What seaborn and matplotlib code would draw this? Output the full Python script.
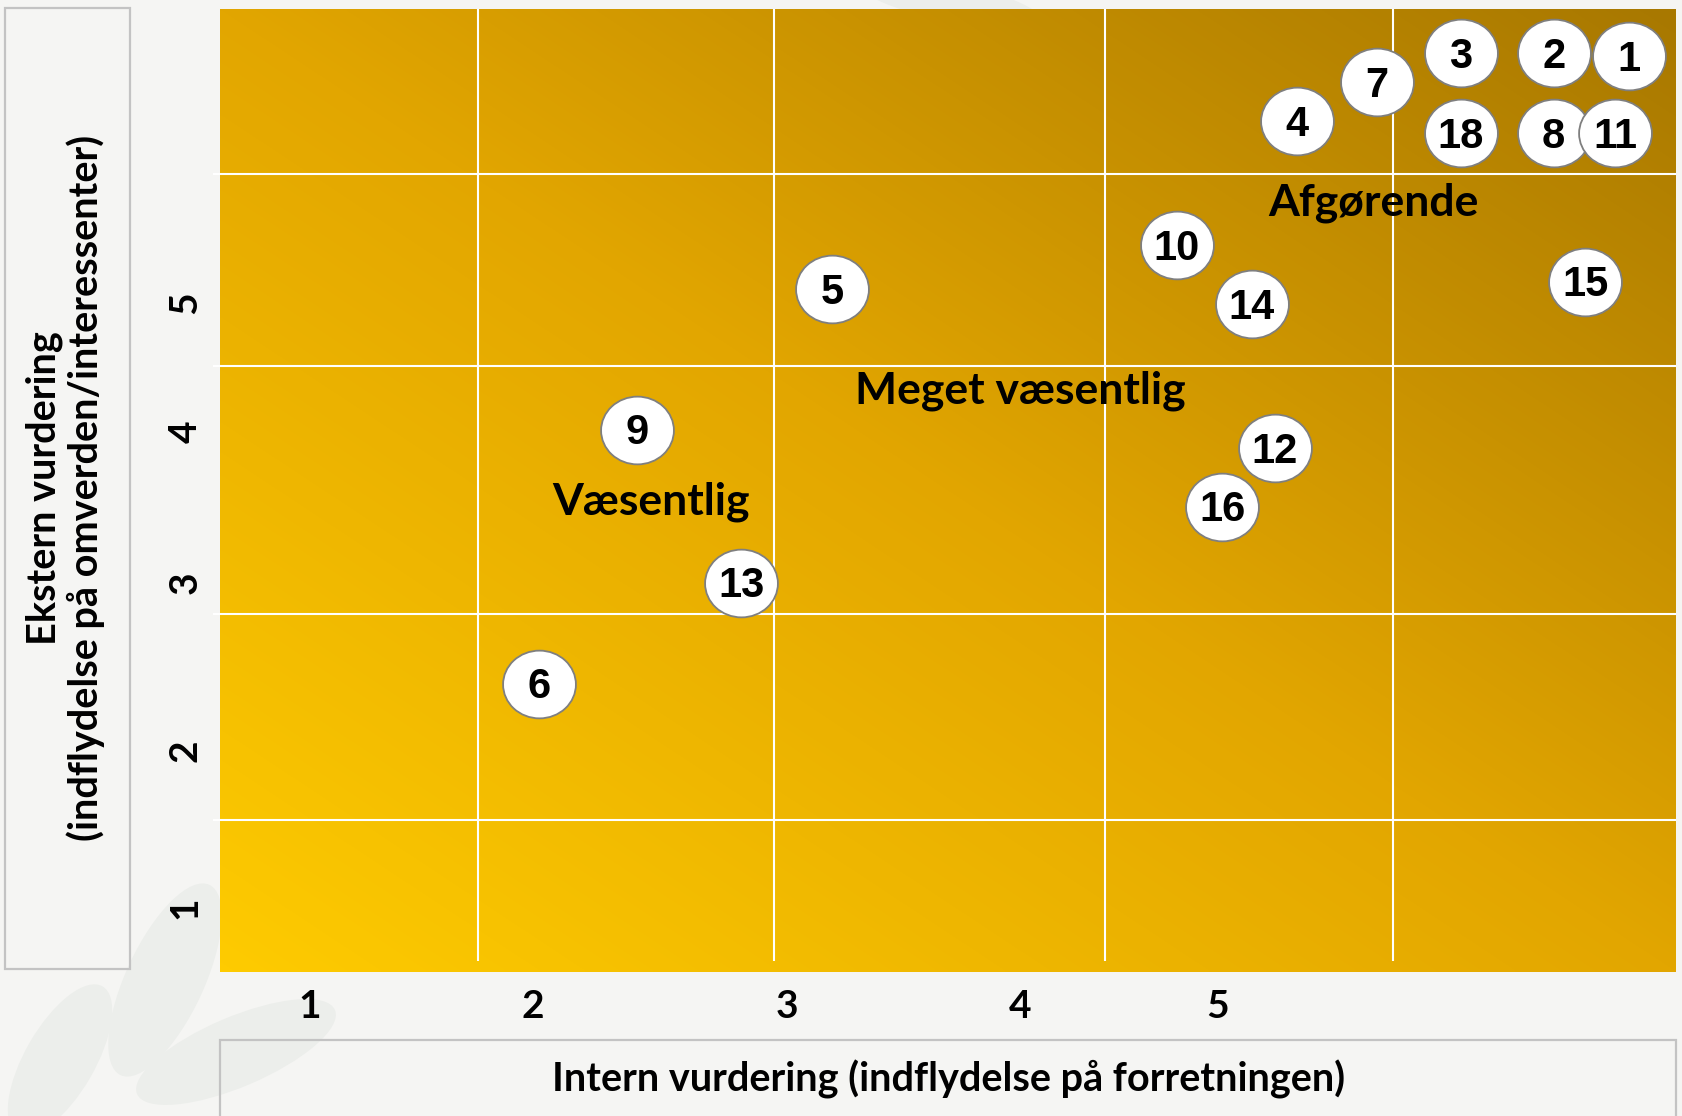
import numpy as np
import pandas as pd
import matplotlib
matplotlib.use("Agg")
import matplotlib.pyplot as plt
import seaborn as sns
from matplotlib.colors import LinearSegmentedColormap
from matplotlib.patches import Rectangle, Ellipse
from matplotlib.path import Path
from matplotlib.transforms import Affine2D

# Data: topic id, internal score (x), external score (y)
topic_ids = ["1", "2", "3", "7", "4", "18", "8", "11", "10", "14", "15", "5", "12", "16", "9", "13", "6"]
intern = [6.81, 6.48, 6.07, 5.70, 5.35, 6.07, 6.48, 6.75, 4.82, 5.15, 6.62, 3.30, 5.25, 5.02, 2.44, 2.90, 2.01]
ekstern = [6.63, 6.65, 6.65, 6.46, 6.20, 6.12, 6.12, 6.12, 5.38, 4.99, 5.14, 5.09, 4.04, 3.65, 4.16, 3.15, 2.48]

x_tick_pos = [1.0, 1.98, 3.10, 4.13, 5.0]
x_tick_labels = ["1", "2", "3", "4", "5"]
y_tick_pos = [1.0, 2.04, 3.15, 4.15, 5.0]
y_tick_labels = ["1", "2", "3", "4", "5"]

x_grid = [1.742, 3.043, 4.504, 5.771]
y_grid = [1.582, 2.943, 4.582, 5.851]

zones = ["Afgørende", "Meget væsentlig", "Væsentlig"]
zone_x = [5.686, 4.130, 2.504]
zone_y = [5.660, 4.418, 3.681]

XLIM = (0.603, 7.019)
YLIM = (0.574, 6.943)

df = pd.DataFrame({"id": topic_ids, "intern": intern, "ekstern": ekstern})

sns.set_theme(style="white")
plt.rcParams["font.family"] = ["Lato", "DejaVu Sans"]
plt.rcParams["text.color"] = "black"
plt.rcParams["xtick.color"] = "black"
plt.rcParams["ytick.color"] = "black"

BG = "#f5f5f3"
fig = plt.figure(figsize=(16.83, 11.16), dpi=100, facecolor=BG)

# faint leaf watermark
leaf_col = "#eceeeb"
for cx, cy, w, h, ang in [(165, 980, 210, 78, 65), (60, 1060, 170, 70, 60),
                          (236, 1052, 215, 70, 23), (950, 2, 190, 40, -12)]:
    fig.patches.append(Ellipse((cx / 100, (1116 - cy) / 100), w / 100, h / 100, angle=ang,
                               transform=fig.dpi_scale_trans, facecolor=leaf_col,
                               edgecolor="none", zorder=-2))

# title boxes
fig.patches.append(Rectangle((5 / 1683, 1 - 969 / 1116), 125 / 1683, 961 / 1116,
                             transform=fig.transFigure, fill=False, edgecolor="#c3c3c3",
                             lw=1.6, zorder=-1))
fig.patches.append(Rectangle((220 / 1683, -0.05), 1456 / 1683, 0.05 + (1116 - 1040) / 1116,
                             transform=fig.transFigure, fill=False, edgecolor="#c3c3c3",
                             lw=1.6, zorder=-1))

ax = fig.add_axes([220 / 1683, 1 - 972 / 1116, 1456 / 1683, 963 / 1116])
ax.set_xlim(*XLIM)
ax.set_ylim(*YLIM)

# diagonal gradient background
cmap = LinearSegmentedColormap.from_list("gold", [(0, "#fecb00"), (0.5, "#e2a600"), (1, "#a87800")])
gx, gy = np.meshgrid(np.linspace(0, 1, 400), np.linspace(0, 1, 300))
ax.imshow((gx + gy) / 2, cmap=cmap, extent=(*XLIM, *YLIM), origin="lower",
          aspect="auto", zorder=0, interpolation="bilinear")

ax.vlines(x_grid, 0.645, YLIM[1], color="white", lw=1.5, zorder=1)
ax.hlines(y_grid, 0.57, XLIM[1], color="white", lw=1.5, zorder=1, clip_on=False)

# slightly wide ellipse marker
ell = Path.unit_circle().transformed(Affine2D().scale(1.0, 0.93))
sns.scatterplot(data=df, x="intern", y="ekstern", marker=ell, s=2750, color="white",
                edgecolor="#7f7f7f", linewidth=1.3, ax=ax, zorder=3, legend=False)
for _, r in df.iterrows():
    ax.annotate(r["id"], (r["intern"], r["ekstern"]), xytext=(0, -10.5),
                textcoords="offset points", ha="center", va="baseline", fontsize=30,
                fontweight="bold", family="Liberation Sans", color="black", zorder=4)

for name, zx, zy in zip(zones, zone_x, zone_y):
    ax.text(zx, zy, name, ha="center", va="center", fontsize=32, fontweight="bold",
            color="black", zorder=2)

ax.set_xticks(x_tick_pos, x_tick_labels)
ax.set_yticks(y_tick_pos, y_tick_labels)
ax.tick_params(axis="x", length=0, pad=12.5, labelsize=28, labelcolor="black")
ax.tick_params(axis="y", length=0, pad=12.5, labelsize=28, labelcolor="black")
for lbl in ax.get_xticklabels() + ax.get_yticklabels():
    lbl.set_fontweight("bold")
for lbl in ax.get_yticklabels():
    lbl.set_rotation(90)
    lbl.set_va("center")
ax.set_xlabel("")
ax.set_ylabel("")
for s in ax.spines.values():
    s.set_visible(False)

fig.text(949 / 1683, 1 - 1079 / 1116, "Intern vurdering (indflydelse på forretningen)",
         ha="center", va="center", fontsize=28.5, fontweight="bold", color="black")
fig.text(65 / 1683, 1 - 488 / 1116, "Ekstern vurdering\n(indflydelse på omverden/interessenter)",
         ha="center", va="center", rotation=90, fontsize=28.5, fontweight="bold",
         linespacing=1.1, color="black")

fig.savefig("out.png", dpi=100, facecolor=BG)
